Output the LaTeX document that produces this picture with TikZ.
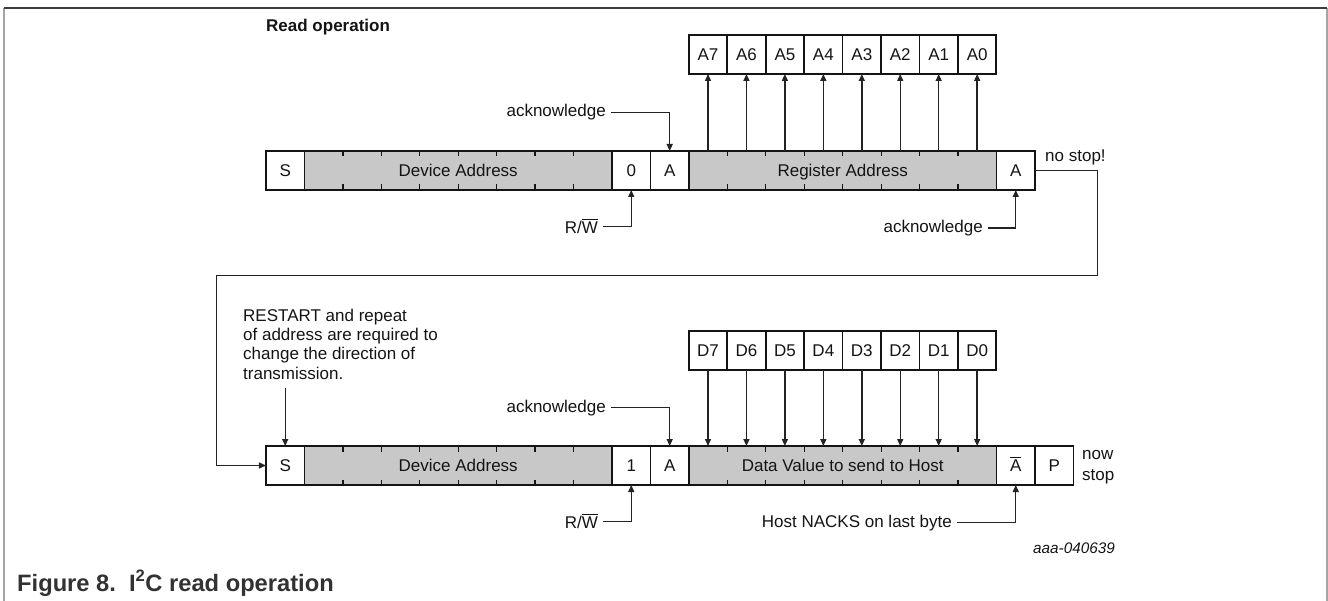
\documentclass[tikz,border=0pt]{standalone}
\usepackage{fontspec}
\setmainfont{Liberation Sans}
\usetikzlibrary{arrows.meta,calc}
\definecolor{fieldgray}{RGB}{200,200,200}
\definecolor{ink}{RGB}{20,20,20}
\definecolor{linegray}{RGB}{35,35,35}
\definecolor{framegray}{RGB}{165,165,165}
\definecolor{framedark}{RGB}{60,60,60}
\definecolor{capgray}{RGB}{50,50,50}
\newcommand\ovbar[1]{\vbox{\hrule height 0.9pt\kern 1.7pt\hbox{#1}}}
\begin{document}
\begin{tikzpicture}[x=1pt,y=-1pt,
  every node/.style={font=\fontsize{17}{19.4}\selectfont, text=ink},
  cell/.style={draw=ink, line width=1.8pt, minimum width=38.45pt, minimum height=39pt,
    inner sep=0pt, outer sep=0pt, text height=12.2pt, text depth=0pt, fill=white},
  field/.style={cell, minimum width=307.6pt, fill=fieldgray},
  conn/.style={draw=linegray, line width=1.4pt},
  arr/.style={conn, -{Triangle[length=7pt,width=6pt]}},
  tick/.style={draw=ink, line width=1.3pt},
  lbl/.style={inner xsep=5pt, inner ysep=0pt}
]
\useasboundingbox (0,0) rectangle (1328,601);
% frame
\draw[framegray, line width=1.5pt] (4,8) -- (4,601);
\draw[framegray, line width=1.5pt] (1327,8) -- (1327,601);
\draw[framedark, line width=1.5pt] (4,8) -- (1327,8);

\node[anchor=base west, inner sep=0pt, font=\bfseries\fontsize{17}{19.4}\selectfont] (title) at (266,31.7) {Read operation};

% ---------- top row ----------
\node[cell] (s1) at (285.2,170.5) {S};
\node[field, anchor=west] (dev1) at (s1.east) {Device Address};
\node[cell, anchor=west] (r0) at (dev1.east) {0};
\node[cell, anchor=west] (a1) at (r0.east) {A};
\node[field, anchor=west] (reg) at (a1.east) {Register Address};
\node[cell, anchor=west] (a2) at (reg.east) {A};
\foreach \k in {1,...,7} {
  \draw[tick] ($(dev1.north west)+(\k*38.45,0)$) -- ++(0,5.5);
  \draw[tick] ($(dev1.south west)+(\k*38.45,0)$) -- ++(0,-5.5);
  \draw[tick] ($(reg.north west)+(\k*38.45,0)$) -- ++(0,5.5);
  \draw[tick] ($(reg.south west)+(\k*38.45,0)$) -- ++(0,-5.5);
}
\foreach \b [count=\k from 0] in {7,6,5,4,3,2,1,0} {
  \node[cell] (ab\b) at ({708.0+\k*38.45},54.5) {A\b};
  \draw[arr] (ab\b.south |- reg.north) -- (ab\b.south);
}
\node[lbl, anchor=east] (ackt1) at (611,112.5) {acknowledge};
\draw[arr] (ackt1.east) -| (a1.north);
\node[lbl, anchor=east] (rw1) at (603,226.7) {R/\ovbar{W}};
\draw[arr] (rw1.east) -| (r0.south);
\node[lbl, anchor=east] (ackt2) at (988,228) {acknowledge};
\draw[arr] (ackt2.east) -| (a2.south);
\node[anchor=base west, inner sep=0pt] (nostop) at (1045,161.7) {no stop!};

% loop back connector
\coordinate (bendR) at (1097.7,275.7);
\coordinate (bendL) at (216.7,275.7);

% ---------- bottom row ----------
\node[cell] (s2) at (285.2,465.5) {S};
\node[field, anchor=west] (dev2) at (s2.east) {Device Address};
\node[cell, anchor=west] (r1) at (dev2.east) {1};
\node[cell, anchor=west] (a3) at (r1.east) {A};
\node[field, anchor=west] (dat) at (a3.east) {Data Value to send to Host};
\node[cell, anchor=west] (nb) at (dat.east) {\ovbar{A}};
\node[cell, anchor=west] (p) at (nb.east) {P};
\foreach \k in {1,...,7} {
  \draw[tick] ($(dev2.north west)+(\k*38.45,0)$) -- ++(0,5.5);
  \draw[tick] ($(dev2.south west)+(\k*38.45,0)$) -- ++(0,-5.5);
  \draw[tick] ($(dat.north west)+(\k*38.45,0)$) -- ++(0,5.5);
  \draw[tick] ($(dat.south west)+(\k*38.45,0)$) -- ++(0,-5.5);
}
\foreach \b [count=\k from 0] in {7,6,5,4,3,2,1,0} {
  \node[cell] (db\b) at ({708.0+\k*38.45},350.5) {D\b};
  \draw[arr] (db\b.south) -- (db\b.south |- dat.north);
}
\draw[arr] (a2.east) -| (bendR) -- (bendL) |- (s2.west);

\node[anchor=north west, inner sep=0pt, align=left] (restart) at (243,308.5)
  {RESTART and repeat\\of address are required to\\change the direction of\\transmission.};
\draw[arr] ([yshift=-8pt]restart.south -| s2.north) -- (s2.north);
\node[lbl, anchor=east] (ackb) at (611,407.7) {acknowledge};
\draw[arr] (ackb.east) -| (a3.north);
\node[lbl, anchor=east] (rw2) at (603,521.7) {R/\ovbar{W}};
\draw[arr] (rw2.east) -| (r1.south);
\node[lbl, anchor=east] (nack) at (957,522.7) {Host NACKS on last byte};
\draw[arr] (nack.east) -| (nb.south);
\node[anchor=north west, inner sep=0pt, align=left, font=\fontsize{17}{21}\selectfont] (nowstop) at (1082,450) {now\\stop};

\node[anchor=base west, inner sep=0pt, font=\itshape\fontsize{15.3}{18}\selectfont] (code) at (1033,553) {aaa-040639};

\node[anchor=base west, inner sep=0pt, text=capgray, font=\bfseries\fontsize{23.7}{28}\selectfont] (caption) at (17,591) {Figure 8.\ \ I\textsuperscript{2}C read operation};
\end{tikzpicture}
\end{document}
